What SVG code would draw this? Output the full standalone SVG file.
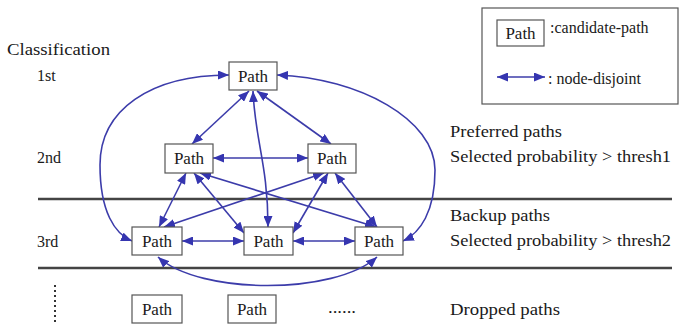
<svg xmlns="http://www.w3.org/2000/svg" width="682" height="327" viewBox="0 0 682 327">
<style>
text{font-family:"Liberation Serif","Times New Roman",serif;font-size:16px;fill:#1a1a1a}
.box{fill:#fff;stroke:#555;stroke-width:1.2}
.nt{text-anchor:middle;font-size:17px}
.c{fill:none;stroke:#3C3CAA;stroke-width:1.6;marker-start:url(#ah);marker-end:url(#ah)}
.sep{stroke:#444;stroke-width:2.5}
</style>
<defs>
<marker id="ah" viewBox="0 0 11 9" refX="11" refY="4.5" markerWidth="11" markerHeight="9" markerUnits="userSpaceOnUse" orient="auto-start-reverse">
<path d="M0,0 L11,4.5 L0,9 z" fill="#3535B0"/>
</marker>
</defs>
<rect width="682" height="327" fill="#fff"/>

<g id="labels">
<text x="7" y="55" textLength="103" lengthAdjust="spacingAndGlyphs">Classification</text>
<text x="37" y="81">1st</text>
<text x="37" y="163">2nd</text>
<text x="37" y="247">3rd</text>
<text x="450" y="137" textLength="112" lengthAdjust="spacingAndGlyphs">Preferred paths</text>
<text x="450" y="162" textLength="221" lengthAdjust="spacingAndGlyphs">Selected probability &gt; thresh1</text>
<text x="450" y="221" textLength="100" lengthAdjust="spacingAndGlyphs">Backup paths</text>
<text x="450" y="246" textLength="221" lengthAdjust="spacingAndGlyphs">Selected probability &gt; thresh2</text>
<text x="450" y="315" textLength="110" lengthAdjust="spacingAndGlyphs">Dropped paths</text>
<text x="328" y="313" textLength="28" lengthAdjust="spacingAndGlyphs">......</text>
</g>

<g id="separators">
<line class="sep" x1="38" y1="199" x2="672" y2="199"/>
<line class="sep" x1="38" y1="268" x2="672" y2="268"/>
<line x1="55" y1="285" x2="55" y2="322" stroke="#333" stroke-width="2" stroke-dasharray="2,3"/>
</g>

<g id="legend">
<rect x="482" y="8" width="196" height="96" fill="#fff" stroke="#555" stroke-width="1.2"/>
<rect class="box" x="497" y="20" width="47" height="26"/>
<text class="nt" x="520.5" y="38.5">Path</text>
<text x="550" y="33">:candidate-path</text>
<line class="c" x1="497" y1="77" x2="545" y2="77"/>
<text x="548" y="84">: node-disjoint</text>
</g>

<g id="connectors">
<path class="c" d="M249,91 L192,144"/>
<path class="c" d="M257,91 L331,144"/>
<path class="c" d="M253,91 C255,140 268,165 268,227"/>
<path class="c" d="M229,75 C150,75 100,110 100,165 C100,212 115,234 132,241"/>
<path class="c" d="M277,75 C360,78 435,120 435,170 C435,212 420,233 403,241"/>
<path class="c" d="M213,158 L308,158"/>
<path class="c" d="M186,173 L159,227"/>
<path class="c" d="M194,173 L244,233"/>
<path class="c" d="M200,173 L376,227"/>
<path class="c" d="M324,173 L164,227"/>
<path class="c" d="M328,173 L293,233"/>
<path class="c" d="M335,173 L377,227"/>
<path class="c" d="M182,241 L244,241"/>
<path class="c" d="M293,241 L355,241"/>
<path class="c" d="M158,257 C200,295 335,295 377,257"/>
</g>

<g id="n-top"><rect class="box" x="229" y="62" width="48" height="28"/><text class="nt" x="253" y="81.5">Path</text></g>
<g id="n-2L"><rect class="box" x="165" y="144" width="48" height="29"/><text class="nt" x="189" y="164">Path</text></g>
<g id="n-2R"><rect class="box" x="308" y="144" width="48" height="29"/><text class="nt" x="332" y="164">Path</text></g>
<g id="n-3A"><rect class="box" x="132" y="227" width="50" height="28"/><text class="nt" x="157" y="246.5">Path</text></g>
<g id="n-3B"><rect class="box" x="244" y="227" width="49" height="28"/><text class="nt" x="268.5" y="246.5">Path</text></g>
<g id="n-3C"><rect class="box" x="355" y="227" width="48" height="28"/><text class="nt" x="379" y="246.5">Path</text></g>
<g id="n-d1"><rect class="box" x="132" y="295" width="50" height="28"/><text class="nt" x="157" y="314.5">Path</text></g>
<g id="n-d2"><rect class="box" x="228" y="295" width="48" height="28"/><text class="nt" x="252" y="314.5">Path</text></g>
</svg>
